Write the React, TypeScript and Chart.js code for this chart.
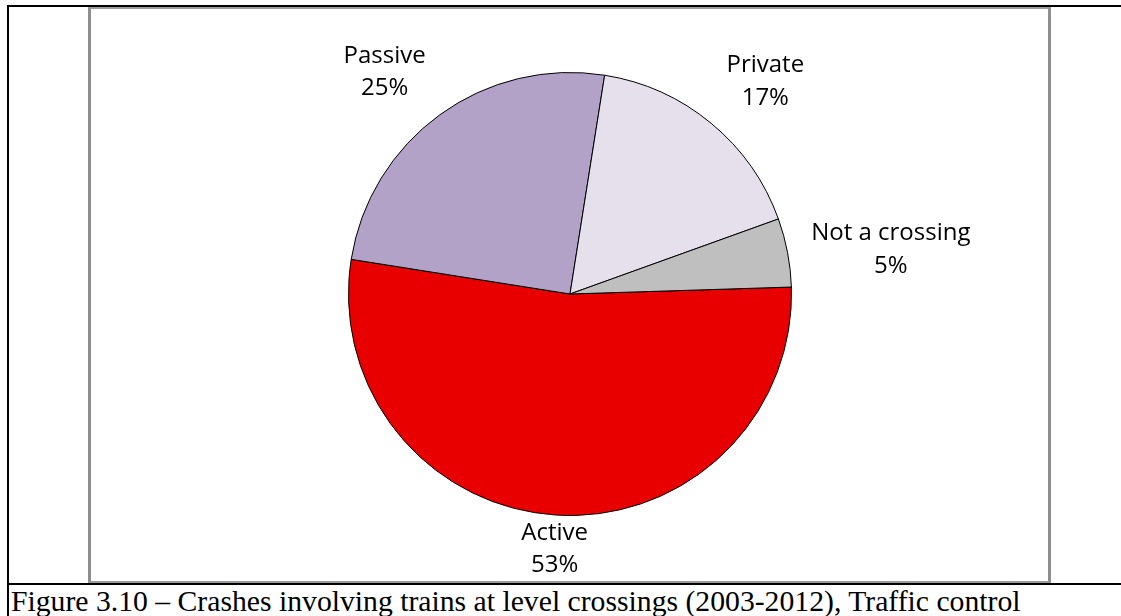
import React, { useEffect, useRef } from "react";
import { Chart, registerables } from "chart.js";

Chart.register(...registerables);

const categories = ["Active", "Passive", "Private", "Not a crossing"];
const shares = [53, 25, 17, 5];
const sliceColors = ["#E80000", "#B3A2C7", "#E6E0EC", "#BFBFBF"];
const captionText =
  "Figure 3.10 \u2013 Crashes involving trains at level crossings (2003-2012), Traffic control";

const LABEL_FONT_SIZE = 24;
const LABEL_LINE = 32.5;
const LABEL_GAP = 24;

const outsideLabels = {
  id: "outsideLabels",
  afterDatasetsDraw(chart: any) {
    const ctx = chart.ctx as CanvasRenderingContext2D;
    const meta = chart.getDatasetMeta(0);
    const data = chart.data.datasets[0].data as number[];
    const total = data.reduce((a, b) => a + b, 0);
    ctx.save();
    ctx.font = `${LABEL_FONT_SIZE}px "Open Sans"`;
    ctx.fillStyle = "#000";
    ctx.textAlign = "center";
    ctx.textBaseline = "alphabetic";
    const capH = LABEL_FONT_SIZE * 0.714;
    const descent = LABEL_FONT_SIZE * 0.25;
    const H = chart.height;
    const W = chart.width;
    meta.data.forEach((arc: any, i: number) => {
      const p = arc.getProps(["x", "y", "startAngle", "endAngle", "outerRadius"], true);
      const mid = (p.startAngle + p.endAngle) / 2;
      const dx = Math.cos(mid);
      const dy = Math.sin(mid);
      const lines = [String(chart.data.labels[i]), Math.round((data[i] / total) * 100) + "%"];
      const w = Math.max(...lines.map((l) => ctx.measureText(l).width));
      const h = capH + LABEL_LINE * (lines.length - 1);
      // anchor point on the ray, just outside the slice
      const ax = p.x + (p.outerRadius + LABEL_GAP) * dx;
      const ay = p.y + (p.outerRadius + LABEL_GAP) * dy;
      // which point of the label box sits on the anchor (octant rule)
      const phi = Math.abs(Math.atan2(Math.abs(dy), Math.abs(dx))) * 180 / Math.PI;
      let ox = 0;
      let oy = 0;
      if (phi < 22.5) {
        ox = Math.sign(dx) * (w / 2);
      } else if (phi > 67.5) {
        oy = Math.sign(dy) * (h / 2);
      } else {
        ox = Math.sign(dx) * (w / 2);
        oy = Math.sign(dy) * (h / 2);
      }
      let cx = ax + ox;
      let cy = ay + oy;
      // keep the label inside the chart area
      const top0 = cy - h / 2;
      const bottom0 = cy + h / 2 + descent;
      if (bottom0 > H - 3) cy -= bottom0 - (H - 3);
      if (top0 < 3) cy += 3 - top0;
      cx = Math.min(Math.max(cx, w / 2 + 3), W - w / 2 - 3);
      const top = cy - h / 2;
      lines.forEach((l, j) => {
        ctx.fillText(l, cx, top + capH + j * LABEL_LINE);
      });
    });
    ctx.restore();
  },
};

export default function App() {
  const ref = useRef<HTMLCanvasElement | null>(null);
  useEffect(() => {
    if (!ref.current) return;
    const chart = new Chart(ref.current, {
      type: "pie",
      data: {
        labels: categories,
        datasets: [
          {
            data: shares,
            backgroundColor: sliceColors,
            borderColor: "#000",
            borderWidth: 1,
          },
        ],
      },
      options: {
        responsive: false,
        animation: false,
        events: [],
        rotation: 88.2,
        layout: { padding: { top: 63, bottom: 65, left: 257, right: 256 } },
        plugins: {
          legend: { display: false },
          tooltip: { enabled: false },
          title: { display: false },
        },
      },
      plugins: [outsideLabels],
    });
    return () => chart.destroy();
  }, []);

  return (
    <div
      style={{
        position: "fixed",
        left: 0,
        top: 0,
        width: 1121,
        height: 616,
        overflow: "hidden",
        background: "#fff",
      }}
    >
      <div style={{ position: "absolute", left: 7, top: 5, width: 2, height: 611, background: "#000" }} />
      <div style={{ position: "absolute", left: 7, top: 5, width: 1114, height: 2, background: "#000" }} />
      <div style={{ position: "absolute", left: 7, top: 583, width: 1114, height: 2, background: "#000" }} />
      <div
        style={{
          position: "absolute",
          left: 88,
          top: 7,
          width: 963,
          height: 576,
          boxSizing: "border-box",
          borderLeft: "3px solid #8e8e8e",
          borderRight: "3px solid #8e8e8e",
          borderTop: "2px solid #9a9a9a",
          borderBottom: "2px solid #9a9a9a",
        }}
      />
      <canvas
        ref={ref}
        width={957}
        height={572}
        style={{ position: "absolute", left: 91, top: 9, width: 957, height: 572 }}
      />
      <div
        style={{
          position: "absolute",
          left: 11,
          top: 586,
          whiteSpace: "nowrap",
          fontFamily: '"Liberation Serif", "Times New Roman", serif',
          fontSize: 29.7,
          lineHeight: "30px",
          color: "#000",
        }}
      >
        {captionText}
      </div>
    </div>
  );
}
